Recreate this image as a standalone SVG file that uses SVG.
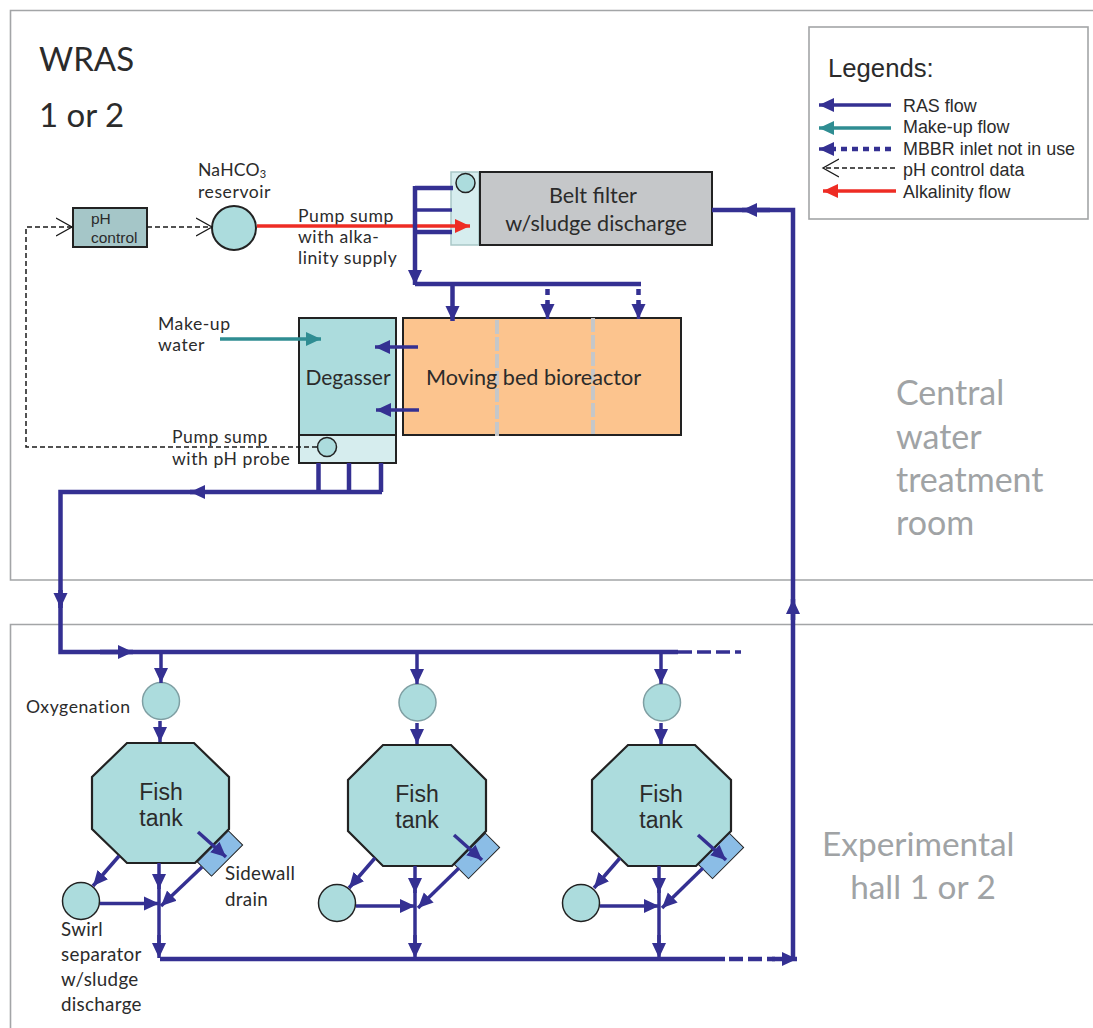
<svg xmlns="http://www.w3.org/2000/svg" width="1093" height="1028" viewBox="0 0 1093 1028">
<defs>
<marker id="ab" markerUnits="userSpaceOnUse" markerWidth="16" markerHeight="16" refX="15" refY="8" orient="auto"><path d="M0,1 L15,8 L0,15 Z" fill="#343092"/></marker>
<marker id="at" markerUnits="userSpaceOnUse" markerWidth="16" markerHeight="16" refX="15" refY="8" orient="auto"><path d="M0,1 L15,8 L0,15 Z" fill="#2f8d92"/></marker>
<marker id="ar" markerUnits="userSpaceOnUse" markerWidth="16" markerHeight="16" refX="15" refY="8" orient="auto"><path d="M0,1 L15,8 L0,15 Z" fill="#ee2c24"/></marker>
<marker id="ao" markerUnits="userSpaceOnUse" markerWidth="18" markerHeight="20" refX="16" refY="10" orient="auto"><path d="M0,1 L16,10 L0,19" fill="none" stroke="#1a1a1a" stroke-width="1.3"/></marker>
</defs>
<style>
.room{fill:none;stroke:#a3a5a7;stroke-width:1.6}
.c{font-family:"Lato","Open Sans",sans-serif;fill:#2b2b2b}
.a{font-family:"Liberation Sans",Arial,sans-serif;fill:#2b2b2b}
.g{font-family:"Lato","Open Sans",sans-serif;fill:#a0a3a5;font-size:34px}
.h{font-size:33.400px}
.l{font-size:17.600px;letter-spacing:.55px}
.s{font-size:18.800px;letter-spacing:.3px}
.m{text-anchor:middle}
.ln{fill:none;stroke:#343092;stroke-width:4.5}
.thin{fill:none;stroke:#343092;stroke-width:3.5}
.arr{marker-end:url(#ab)}
.dot{fill:none;stroke:#343092;stroke-width:4.5;stroke-dasharray:6 5}
.dash{fill:none;stroke:#1a1a1a;stroke-width:1.5;stroke-dasharray:5 3}
.box{stroke:#222;stroke-width:2}
.aq{fill:#acdcdd}
.pale{fill:#d6edee}
.oxy{fill:#acdcdd;stroke:#7f9fa3;stroke-width:1.5}
.sw{fill:#acdcdd;stroke:#222;stroke-width:1.5}
.tank{fill:#acdcdd;stroke:#222;stroke-width:2.2}
.drain{fill:#8bbde6;stroke:#222;stroke-width:1}
.baffle{fill:none;stroke:#c5c7c9;stroke-width:4;stroke-dasharray:14 3}
</style>
<rect width="1093" height="1028" fill="#fff"/>
<g id="room-central"><path class="room" d="M1093,10.500 H10.500 V580 H1093"/>
<text class="c" x="39" y="71" font-size="33">WRAS</text>
<text class="c" x="39" y="127" font-size="33">1 or 2</text>
<text class="g" x="896" y="405">Central</text><text class="g" x="896" y="449">water</text><text class="g" x="896" y="492">treatment</text><text class="g" x="896" y="535">room</text></g>
<g id="room-hall"><path class="room" d="M1093,624.500 H10.500 V1028"/>
<text class="g h" x="822" y="856">Experimental</text><text class="g h m" x="923" y="899">hall 1 or 2</text></g>

<g id="legend"><rect x="809" y="27" width="279" height="192" fill="#fff" stroke="#a3a5a7" stroke-width="1.6"/>
<text class="a" x="828" y="77" font-size="25.700">Legends:</text>
<text class="a" x="903" y="112" font-size="17.900">RAS flow</text>
<text class="a" x="903" y="133" font-size="17.900">Make-up flow</text>
<text class="a" x="903" y="155" font-size="17.900">MBBR inlet not in use</text>
<text class="a" x="903" y="176" font-size="17.900">pH control data</text>
<text class="a" x="903" y="198" font-size="17.900">Alkalinity flow</text>
<line class="thin arr" x1="891" y1="105" x2="819" y2="105"/>
<line x1="891" y1="128" x2="819" y2="128" fill="none" stroke="#2f8d92" stroke-width="3.500" marker-end="url(#at)"/>
<line class="dot" x1="891" y1="149" x2="834" y2="149"/><line class="thin arr" x1="836" y1="149" x2="819" y2="149"/>
<line class="dash" x1="895" y1="168" x2="823" y2="168" marker-end="url(#ao)"/>
<line x1="896" y1="191" x2="823" y2="191" fill="none" stroke="#ee2c24" stroke-width="3.500" marker-end="url(#ar)"/></g>

<g id="ph-control"><rect x="73" y="208" width="74" height="39" class="box" fill="#a5c6c8"/>
<text class="a" x="91" y="224" font-size="15.500">pH</text><text class="a" x="91" y="243" font-size="15.500">control</text></g>
<g id="reservoir"><circle cx="234" cy="228" r="22" class="sw" style="stroke-width:2"/>
<text class="c l" x="198" y="176" style="letter-spacing:.2px">NaHCO<tspan font-size="11" dy="2">3</tspan></text><text class="c l" x="198" y="198">reservoir</text></g>
<g id="belt-sump"><rect x="451" y="172" width="28" height="73" class="pale" stroke="#a9c7c7" stroke-width="1.5"/><circle cx="465.500" cy="183" r="9.500" class="sw"/></g>
<g id="belt-filter"><rect x="480" y="172" width="232" height="73" class="box" fill="#c5c7c9"/>
<text class="c m" x="593" y="203" font-size="21.600">Belt filter</text><text class="c m" x="596" y="231" font-size="21.600">w/sludge discharge</text></g>
<g id="mbbr"><rect x="403" y="318" width="278" height="117" class="box" fill="#fcc48e"/>
<line class="baffle" x1="497" y1="320" x2="497" y2="436"/><line class="baffle" x1="593" y1="318" x2="593" y2="435"/>
<text class="c" x="426" y="385" font-size="21.600">Moving bed bioreactor</text></g>
<g id="degasser"><rect x="299" y="318" width="97" height="117" class="box aq"/><text class="c m" x="348" y="385" font-size="21">Degasser</text></g>
<g id="ph-sump"><rect x="299" y="435" width="97" height="28" class="box pale"/><circle cx="327" cy="447" r="9.500" class="sw"/></g>

<g id="labels"><text class="c l" x="298" y="222">Pump sump</text><text class="c l" x="298" y="243">with alka-</text><text class="c l" x="298" y="264">linity supply</text>
<text class="c l" x="158" y="330">Make-up</text><text class="c l" x="158" y="351">water</text>
<text class="c l" x="172" y="443">Pump sump</text><text class="c l" x="172" y="464.500">with pH probe</text>
<text class="c l" x="26" y="713">Oxygenation</text>
<text class="c s" x="225" y="880">Sidewall</text><text class="c s" x="225" y="906">drain</text>
<text class="c s" x="61" y="936">Swirl</text><text class="c s" x="61" y="961">separator</text><text class="c s" x="61" y="986">w/sludge</text><text class="c s" x="61" y="1011">discharge</text></g>

<g id="tank-1"><circle class="oxy" cx="161" cy="701" r="18.500"/><polygon class="tank" points="127,743 194,743 229,777 229,829 195,863 127,863 92,829 92,777"/>
<rect class="drain" x="-22" y="-10" width="44" height="20" transform="translate(220,853.500) rotate(-45)"/>
<text class="a m" x="161" y="800" font-size="23">Fish</text><text class="a m" x="161" y="826" font-size="23">tank</text><circle class="sw" cx="81" cy="901" r="18.500"/></g>
<g id="tank-2"><circle class="oxy" cx="417.500" cy="702.500" r="18.500"/><polygon class="tank" points="383,745 451,745 486,780 486,831 452,866 383,866 348,831 348,780"/>
<rect class="drain" x="-22" y="-10" width="44" height="20" transform="translate(477,856) rotate(-45)"/>
<text class="a m" x="417" y="802" font-size="23">Fish</text><text class="a m" x="417" y="828" font-size="23">tank</text><circle class="sw" cx="337" cy="903" r="18.500"/></g>
<g id="tank-3"><circle class="oxy" cx="662" cy="702.500" r="18.500"/><polygon class="tank" points="628,745 695,745 731,780 731,831 696,866 628,866 592,831 592,780"/>
<rect class="drain" x="-22" y="-10" width="44" height="20" transform="translate(721,856) rotate(-45)"/>
<text class="a m" x="661" y="802" font-size="23">Fish</text><text class="a m" x="661" y="828" font-size="23">tank</text><circle class="sw" cx="581" cy="903" r="18.500"/></g>

<g id="connectors">
<line x1="257" y1="226" x2="470" y2="226" fill="none" stroke="#ee2c24" stroke-width="3.500" marker-end="url(#ar)"/>
<path class="dash" d="M317,447 H26 V227 H72" marker-end="url(#ao)"/>
<line class="dash" x1="147" y1="227" x2="212" y2="227" marker-end="url(#ao)"/>
<line x1="220" y1="339" x2="321" y2="339" fill="none" stroke="#2f8d92" stroke-width="3.500" marker-end="url(#at)"/>
<path class="ln" d="M453,188 H415"/><path class="thin" d="M452,210 H415"/><path class="ln" d="M452,232 H415"/>
<line class="ln arr" x1="415" y1="186" x2="415" y2="285"/>
<path class="ln" d="M415,284 H641"/>
<line class="ln arr" x1="452.500" y1="284" x2="452.500" y2="321"/>
<line class="dot" x1="547.500" y1="289" x2="547.500" y2="306"/><line class="thin arr" x1="547.500" y1="302" x2="547.500" y2="319"/>
<line class="dot" x1="638.500" y1="289" x2="638.500" y2="306"/><line class="thin arr" x1="638.500" y1="302" x2="638.500" y2="319"/>
<line class="thin arr" x1="418" y1="347" x2="375" y2="347"/><line class="thin arr" x1="419" y1="410" x2="376" y2="410"/>
<path class="ln" d="M318.500,463 V492 M349,463 V492 M381,463 V492"/>
<line class="ln arr" x1="382" y1="492" x2="190" y2="492"/>
<path class="ln" d="M195,492 H60.500 V605"/>
<line class="ln arr" x1="60.500" y1="590" x2="60.500" y2="608"/>
<path class="ln" d="M60.500,600 V652 H678"/>
<line class="ln arr" x1="100" y1="652" x2="133" y2="652"/>
<path d="M678,652 H741" fill="none" stroke="#343092" stroke-width="3.500" stroke-dasharray="14 5"/>

<line class="thin arr" x1="161" y1="654" x2="161" y2="683"/><line class="thin arr" x1="160" y1="721" x2="160" y2="742"/>
<line class="thin arr" x1="198" y1="832" x2="226" y2="857"/><line class="thin arr" x1="202" y1="867" x2="161" y2="906"/>
<line class="thin arr" x1="119" y1="856" x2="93" y2="886"/><line class="thin arr" x1="100" y1="903.500" x2="159" y2="903.500"/>
<line class="thin arr" x1="159" y1="863" x2="159" y2="889"/><path class="thin" d="M159,885 V945"/><line class="thin arr" x1="159" y1="935" x2="159" y2="958"/>

<line class="thin arr" x1="417" y1="654" x2="417" y2="684"/><line class="thin arr" x1="417" y1="723" x2="417" y2="744"/>
<line class="thin arr" x1="454" y1="835" x2="482" y2="860"/><line class="thin arr" x1="459" y1="868" x2="418" y2="908"/>
<line class="thin arr" x1="375" y1="858" x2="349" y2="888"/><line class="thin arr" x1="356" y1="906" x2="415" y2="906"/>
<line class="thin arr" x1="415" y1="866" x2="415" y2="893"/><path class="thin" d="M415,890 V945"/><line class="thin arr" x1="415" y1="935" x2="415" y2="958"/>

<line class="thin arr" x1="661" y1="654" x2="661" y2="684"/><line class="thin arr" x1="661" y1="723" x2="661" y2="744"/>
<line class="thin arr" x1="698" y1="835" x2="726" y2="860"/><line class="thin arr" x1="703" y1="868" x2="662" y2="908"/>
<line class="thin arr" x1="620" y1="858" x2="594" y2="888"/><line class="thin arr" x1="600" y1="906" x2="659" y2="906"/>
<line class="thin arr" x1="659" y1="866" x2="659" y2="893"/><path class="thin" d="M659,890 V945"/><line class="thin arr" x1="659" y1="935" x2="659" y2="958"/>

<path class="ln" d="M160,959 H725"/>
<path d="M729,959 H775" fill="none" stroke="#343092" stroke-width="4.500" stroke-dasharray="14 5"/>
<line class="ln arr" x1="772" y1="959" x2="797" y2="959"/>
<path class="ln" d="M793,961 V210 H712"/>
<line class="ln arr" x1="793" y1="620" x2="793" y2="599"/>
<line class="ln arr" x1="770" y1="210" x2="742" y2="210"/>
</g>
</svg>
